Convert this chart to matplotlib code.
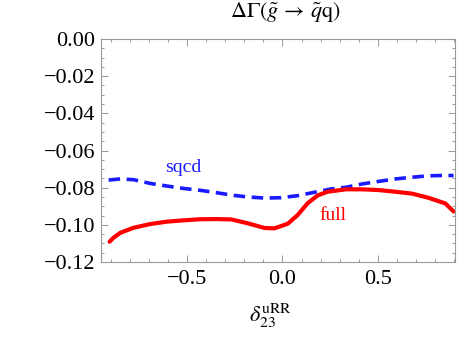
import matplotlib
matplotlib.use("Agg")
import matplotlib.pyplot as plt
from matplotlib.ticker import MultipleLocator, FuncFormatter

plt.rcParams['font.family'] = ['Liberation Serif', 'DejaVu Serif']
plt.rcParams['mathtext.fontset'] = 'stix'

x_sqcd = [-0.910, -0.849, -0.780, -0.693, -0.606, -0.519, -0.432, -0.345, -0.267, -0.181,
          -0.094, -0.007, 0.080, 0.167, 0.254, 0.332, 0.418, 0.505, 0.592, 0.679, 0.766, 0.861, 0.896]
y_sqcd = [-0.0759, -0.0753, -0.0757, -0.0777, -0.0791, -0.0804, -0.0814, -0.0827, -0.0840, -0.0850,
          -0.0856, -0.0854, -0.0843, -0.0825, -0.0807, -0.0798, -0.0780, -0.0766, -0.0753, -0.0744, -0.0736, -0.0734, -0.0735]

x_full = [-0.905, -0.884, -0.849, -0.780, -0.693, -0.606, -0.519, -0.432, -0.345, -0.267, -0.181,
          -0.094, -0.042, 0.028, 0.080, 0.132, 0.184, 0.236, 0.332, 0.418, 0.505, 0.592, 0.679, 0.766, 0.853, 0.896]
y_full = [-0.1091, -0.1069, -0.1043, -0.1016, -0.0996, -0.0983, -0.0976, -0.0970, -0.0969, -0.0971, -0.0992,
          -0.1017, -0.1019, -0.0994, -0.0947, -0.0884, -0.0842, -0.0822, -0.0809, -0.0809, -0.0813, -0.0822, -0.0832, -0.0855, -0.0885, -0.0928]

fig = plt.figure(figsize=(4.66, 3.41), dpi=100)
ax = fig.add_axes([0.2167, 0.2317, 0.7603, 0.6539])

ax.plot(x_sqcd, y_sqcd, color='#1a1aff', lw=2.6, ls=(0, (3.2, 1.8)))
ax.plot(x_full, y_full, color='#ff0000', lw=3.0, solid_capstyle='round', solid_joinstyle='round')

ax.set_xlim(-0.95, 0.905)
ax.set_ylim(-0.12, 0.0)
ax.xaxis.set_major_locator(MultipleLocator(0.5))
ax.xaxis.set_minor_locator(MultipleLocator(0.1))
ax.yaxis.set_major_locator(MultipleLocator(0.02))
ax.yaxis.set_minor_locator(MultipleLocator(0.005))
ax.xaxis.set_major_formatter(FuncFormatter(lambda v, p: ('%.1f' % v).replace('-', '\u2212')))
ax.yaxis.set_major_formatter(FuncFormatter(lambda v, p: ('%.2f' % v).replace('-', '\u2212')))

gray = '#999999'
for s in ax.spines.values():
    s.set_color(gray)
    s.set_linewidth(0.8)
ax.tick_params(which='both', direction='in', top=True, right=True, color=gray, labelsize=16, width=0.7)
ax.tick_params(which='major', length=5, pad=4)
ax.tick_params(which='minor', length=2.5)
ax.tick_params(axis='x', labeltop=False, pad=6)

ax.text(-0.52, -0.0738, 'sqcd', color='#1a1aff', fontsize=14, ha='center', va='bottom')
ax.text(0.265, -0.0948, 'full', color='#ff0000', fontsize=14, ha='center', va='center')

fig.text(0.612, 0.962, r'$\Delta\Gamma(\tilde{g}\,\rightarrow\,\tilde{q}\mathrm{q})$', fontsize=16, ha='center', va='center')
fig.text(0.58, 0.075, r'$\delta_{23}^{\mathrm{uRR}}$', fontsize=16, ha='center', va='center')

fig.savefig('out.png', dpi=100)
